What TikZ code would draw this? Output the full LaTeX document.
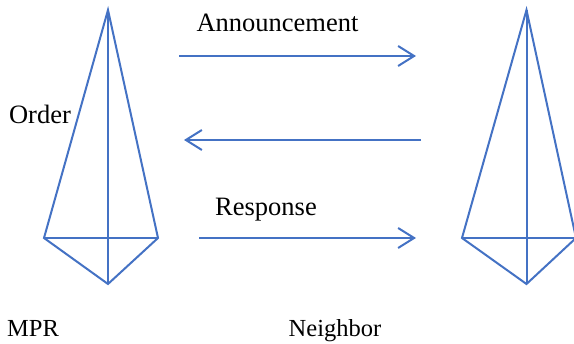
\documentclass[tikz,border=0pt]{standalone}
\usepackage{fontspec}
\setmainfont{Liberation Serif}
\usetikzlibrary{arrows.meta}
\definecolor{lineblue}{RGB}{68,114,196}
\begin{document}
\begin{tikzpicture}[x=1pt,y=-1pt,
  kite/.style={draw=lineblue,line width=2pt,line join=miter},
  msg/.style={draw=lineblue,line width=2pt,-{Straight Barb[length=16pt,width=20pt,line width=2pt]}},
  lbl/.style={font=\fontsize{26.5}{30}\selectfont,anchor=base,inner sep=0pt},
  sublbl/.style={font=\fontsize{24.5}{30}\selectfont,anchor=base,inner sep=0pt}]
\useasboundingbox (0,0) rectangle (574,344);
% left kite
\coordinate (LT) at (108,10);
\coordinate (LL) at (44,238);
\coordinate (LR) at (158,238);
\coordinate (LB) at (108,284);
\draw[kite] (LT) -- (LL) -- (LB) -- (LR) -- cycle;
\draw[kite] (LT) -- (LB);
\draw[kite] (LL) -- (LR);
% right kite
\coordinate (RT) at (526.5,10);
\coordinate (RL) at (462,238);
\coordinate (RR) at (576,238);
\coordinate (RB) at (526.5,284);
\draw[kite] (RT) -- (RL) -- (RB) -- (RR) -- cycle;
\draw[kite] (RT) -- (RB);
\draw[kite] (RL) -- (RR);
% arrows
\coordinate (a1s) at (179,56);
\coordinate (a1e) at (416,56);
\coordinate (a2s) at (421,140);
\coordinate (a2e) at (184,140);
\coordinate (a3s) at (199,238);
\coordinate (a3e) at (416,238);
\draw[msg] (a1s) -- (a1e);
\draw[msg] (a2s) -- (a2e);
\draw[msg] (a3s) -- (a3e);
% labels
\node[lbl] (ann) at (277.5,32) {Announcement};
\node[lbl] (resp) at (266,216) {Response};
\node[lbl] (ord) at (40,124) {Order};
\node[sublbl] (mpr) at (33,337) {MPR};
\node[sublbl] (nbr) at (335,337) {Neighbor};
\end{tikzpicture}
\end{document}
